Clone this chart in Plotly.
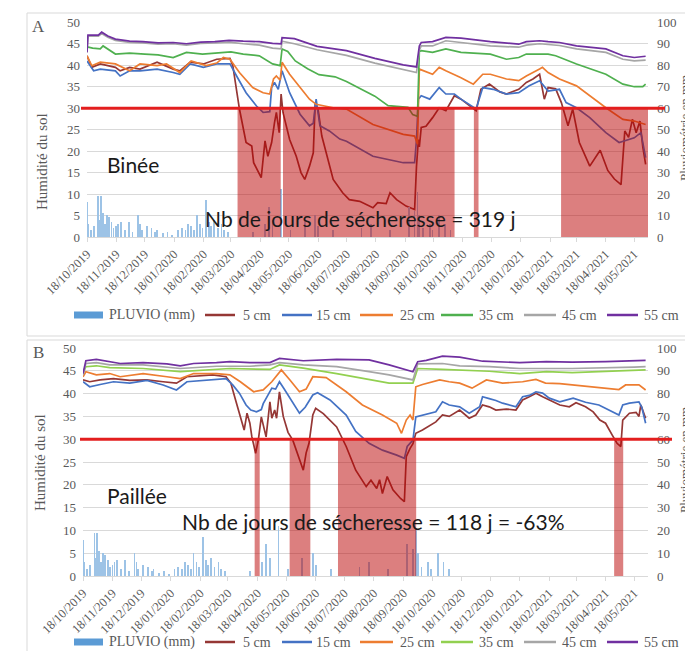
import plotly.graph_objects as go
import pandas as pd

START = "2019-10-18"
X_END_DAYS = 592.5

TICK_DATES = ["2019-10-18", "2019-11-18", "2019-12-18", "2020-01-18", "2020-02-18",
              "2020-03-18", "2020-04-18", "2020-05-18", "2020-06-18", "2020-07-18",
              "2020-08-18", "2020-09-18", "2020-10-18", "2020-11-18", "2020-12-18",
              "2021-01-18", "2021-02-18", "2021-03-18", "2021-04-18", "2021-05-18"]
TICK_LABELS = ["18/10/2019", "18/11/2019", "18/12/2019", "18/01/2020", "18/02/2020",
               "18/03/2020", "18/04/2020", "18/05/2020", "18/06/2020", "18/07/2020",
               "18/08/2020", "18/09/2020", "18/10/2020", "18/11/2020", "18/12/2020",
               "18/01/2021", "18/02/2021", "18/03/2021", "18/04/2021", "18/05/2021"]

SERIES_NAMES = ["5 cm", "15 cm", "25 cm", "35 cm", "45 cm", "55 cm"]

# ---------------- Rainfall (days since 18/10/2019, mm) ----------------
RAIN_DAY = [0, 1, 4, 7, 12, 13, 15, 17, 19, 21, 23, 26, 28, 31, 33, 36, 40, 44, 48, 54,
            56, 58, 63, 68, 72, 74, 80, 85, 90, 96, 100, 104, 107, 110, 113, 116, 119, 122, 126, 129,
            131, 134, 138, 142, 145, 149, 175, 188, 192, 196, 205, 215, 230, 241, 244, 260, 290, 300, 320, 340,
            346, 349, 351, 355, 362, 365, 372, 378, 384]
RAIN_MM = [16, 6, 3, 5, 19, 8, 19, 11, 6, 10, 9, 7, 4, 5, 6, 7, 3, 7, 2, 10,
           6, 3, 5, 4, 2, 3, 1.5, 2, 1, 3, 4, 3, 6, 5, 3, 10, 6, 4, 17, 7,
           5, 8, 4, 6, 3, 2, 2, 6, 14, 8, 22, 3, 8, 10, 5, 3, 4, 6, 3, 14,
           12, 21, 10, 4, 6, 3, 10, 6, 3]

# ---------------- Panel A : Binée ----------------
A5_DAY = [0, 5, 14, 30, 35, 45, 56, 74, 91, 98, 109, 123, 137, 151, 154, 158, 161, 168, 174, 176,
          181, 184, 186, 188, 191, 195, 198, 200, 203, 205, 207, 214, 221, 226, 230, 235, 239, 241, 244, 248,
          260, 270, 277, 288, 302, 307, 316, 320, 327, 337, 346, 347, 348, 350, 351, 353, 358, 365, 372, 379,
          388, 395, 408, 411, 416, 425, 436, 443, 456, 464, 471, 478, 483, 487, 495, 501, 508, 513, 520, 531,
          542, 550, 557, 564, 568, 572, 576, 580, 584, 587, 590]
A5_VAL = [42.2, 39.5, 40.3, 39.5, 38.7, 39.5, 39.1, 40.7, 39.1, 38.7, 40.7, 40.3, 41.4, 41.6, 39.9, 33.6, 29.8, 22.0, 21.2, 17.3,
          15.3, 13.8, 18.1, 22.4, 18.8, 22.0, 26.6, 29.0, 24.3, 33.3, 29.0, 22.7, 18.8, 15.0, 13.4, 16.5, 19.6, 31.3, 29.8, 23.5,
          13.4, 10.3, 8.7, 8.3, 6.8, 8.0, 7.8, 10.3, 8.7, 7.2, 6.4, 13.4, 16.5, 22.7, 21.0, 25.5, 25.8, 27.8, 30.1, 29.4,
          32.9, 32.1, 29.8, 29.4, 34.4, 35.6, 33.8, 33.3, 34.4, 36.0, 36.8, 37.9, 32.1, 34.8, 34.5, 31.3, 25.9, 29.8, 22.0, 16.5,
          20.2, 15.5, 13.5, 12.2, 24.7, 23.2, 27.4, 24.3, 27.0, 21.0, 16.9]

A15_DAY = [0, 7, 14, 30, 35, 45, 56, 74, 91, 98, 109, 123, 137, 151, 158, 168, 179, 186, 193, 195,
           198, 202, 206, 214, 225, 235, 239, 242, 246, 256, 267, 274, 302, 334, 346, 348, 350, 353, 362, 372,
           379, 388, 395, 408, 411, 418, 429, 443, 456, 467, 478, 487, 499, 506, 517, 531, 548, 562, 578, 585,
           588, 590]
A15_VAL = [41.0, 38.7, 39.1, 38.7, 37.5, 38.7, 38.7, 39.1, 38.3, 37.9, 40.3, 39.5, 40.3, 40.3, 37.5, 33.6, 30.5, 29.0, 29.2, 34.8,
           36.0, 34.4, 38.7, 33.6, 28.6, 25.9, 26.5, 32.1, 25.9, 24.7, 22.8, 22.3, 18.8, 17.3, 17.3, 22.7, 32.1, 32.9, 32.1, 34.8,
           33.3, 33.3, 32.1, 30.1, 29.8, 34.8, 34.4, 33.3, 33.6, 35.2, 36.4, 34.0, 34.4, 31.3, 30.1, 27.8, 24.3, 22.0, 23.1, 24.3,
           20.4, 18.5]

A25_DAY = [0, 5, 14, 30, 45, 56, 74, 84, 98, 110, 126, 137, 144, 151, 161, 175, 186, 193, 197, 200,
           204, 206, 214, 225, 235, 242, 260, 274, 302, 334, 346, 349, 351, 365, 372, 379, 395, 408, 418, 426,
           443, 456, 464, 478, 481, 487, 499, 517, 531, 548, 566, 578, 590]
A25_VAL = [42.2, 39.9, 40.7, 40.3, 38.7, 40.3, 39.9, 40.3, 38.3, 41.0, 39.9, 40.5, 41.8, 41.4, 38.3, 34.8, 33.6, 33.3, 36.8, 37.5,
           36.5, 40.7, 37.9, 34.8, 32.1, 30.9, 30.1, 29.8, 26.2, 23.9, 23.5, 21.6, 39.1, 37.9, 39.5, 38.7, 37.1, 35.6, 37.9, 37.9,
           36.8, 36.4, 37.5, 39.1, 39.5, 38.3, 36.8, 35.2, 32.9, 30.1, 27.4, 27.0, 26.2]

A35_DAY = [0, 6, 14, 17, 30, 45, 61, 75, 91, 105, 122, 137, 152, 165, 182, 196, 204, 206, 212, 220,
           233, 245, 262, 274, 290, 304, 318, 334, 339, 344, 349, 351, 353, 365, 379, 395, 426, 443, 456, 464,
           487, 495, 517, 548, 566, 578, 587, 590]
A35_VAL = [44.3, 44.0, 43.8, 44.5, 42.6, 42.8, 42.6, 42.4, 41.8, 43.0, 42.6, 42.8, 43.1, 42.6, 42.2, 40.3, 39.9, 43.8, 43.2, 41.0,
           39.2, 37.8, 37.3, 36.2, 34.3, 32.8, 30.6, 30.2, 30.2, 28.5, 28.1, 43.2, 43.4, 43.0, 43.8, 43.0, 42.6, 41.4, 41.8, 42.6,
           42.6, 42.2, 40.3, 37.9, 35.6, 35.0, 35.0, 35.6]

A45_DAY = [0, 1, 12, 15.5, 22, 30, 45, 59, 75, 91, 105, 120, 135, 150, 165, 182, 196, 205, 206, 219,
           243, 274, 304, 334, 348, 351, 353, 365, 379, 395, 426, 456, 464, 478, 487, 499, 517, 548, 566, 578,
           590]
A45_VAL = [43.0, 46.8, 46.8, 47.4, 46.5, 45.8, 45.3, 45.2, 44.9, 45.0, 44.7, 45.1, 45.2, 45.4, 45.0, 44.7, 44.0, 43.8, 45.6, 45.0,
           43.6, 42.3, 40.5, 38.9, 38.3, 43.5, 44.5, 44.5, 45.7, 45.3, 44.5, 44.2, 44.7, 45.0, 44.9, 44.6, 43.8, 43.0, 41.4, 41.0,
           41.2]

A55_DAY = [0, 1, 12, 15.5, 22, 30, 45, 59, 75, 91, 105, 120, 135, 150, 165, 182, 196, 205, 206, 219,
           243, 268, 274, 304, 334, 348, 351, 353, 365, 379, 395, 426, 456, 464, 478, 487, 499, 517, 548, 566,
           578, 590]
A55_VAL = [43.0, 47.0, 47.0, 47.7, 46.8, 46.1, 45.6, 45.5, 45.2, 45.3, 45.0, 45.4, 45.5, 45.8, 45.6, 45.5, 45.1, 45.0, 46.4, 46.2,
           44.4, 43.6, 43.4, 41.6, 40.1, 39.6, 44.5, 45.3, 45.5, 46.5, 46.3, 45.5, 44.9, 45.5, 45.7, 45.5, 45.3, 44.5, 43.8, 42.2,
           41.8, 42.1]

# drought periods (soil moisture < 30), start / end in days
A_DRY_START = [159, 207, 408.6, 500.7]
A_DRY_END = [204.6, 388.2, 413.5, 593]

# ---------------- Panel B : Paillée ----------------
B5_DAY = [0, 7, 18, 32, 49, 67, 84, 98, 109, 136, 150, 155, 160, 166, 169, 172, 175, 177, 181, 184,
          187, 192, 196, 198, 201, 203, 206, 210, 215, 220, 227, 231, 234, 237, 241, 244, 252, 266, 276, 286,
          297, 302, 308, 311, 314, 319, 325, 333, 337, 339, 343, 346, 349, 356, 370, 377, 384, 395, 405, 412,
          419, 426, 433, 444, 454, 461, 468, 475, 482, 489, 500, 510, 517, 527, 535, 542, 548, 555, 560, 564,
          566, 573, 580, 583, 585, 590]
B5_VAL = [43.0, 42.6, 43.0, 43.3, 42.9, 43.0, 42.6, 42.3, 43.7, 44.1, 43.7, 42.3, 38.6, 34.2, 32.0, 35.7, 33.5, 30.6, 26.9, 30.0,
          34.9, 30.5, 38.2, 34.6, 36.4, 34.6, 40.4, 35.0, 31.5, 29.8, 25.4, 23.2, 27.0, 29.1, 35.3, 36.8, 35.6, 32.7, 28.4, 23.2,
          19.6, 21.0, 19.2, 21.1, 18.1, 21.8, 18.9, 17.0, 16.3, 26.2, 28.0, 29.0, 31.3, 32.0, 33.8, 35.3, 35.0, 36.4, 34.6, 35.3,
          37.5, 37.1, 36.4, 36.6, 36.4, 38.6, 39.3, 40.1, 39.3, 38.6, 37.5, 37.1, 38.0, 37.1, 36.0, 34.2, 33.5, 30.9, 29.1, 28.4,
          34.2, 35.7, 35.9, 35.0, 37.5, 34.6]

B15_DAY = [0, 7, 18, 32, 49, 67, 84, 98, 109, 136, 150, 157, 164, 171, 176, 182, 187, 189, 194, 198,
           202, 206, 211, 216, 227, 233, 241, 246, 259, 276, 286, 300, 314, 329, 337, 340, 346, 349, 356, 370,
           377, 384, 395, 405, 416, 419, 426, 433, 440, 454, 461, 468, 475, 482, 489, 500, 514, 527, 541, 555,
           562, 566, 573, 583, 586, 590]
B15_VAL = [42.6, 41.5, 42.0, 42.6, 42.3, 42.9, 41.9, 40.8, 42.6, 43.0, 43.3, 41.9, 40.1, 37.5, 36.4, 36.0, 36.5, 37.8, 39.7, 41.2,
           41.0, 42.6, 41.0, 39.3, 35.7, 37.0, 39.7, 40.2, 38.6, 35.3, 31.7, 29.1, 27.6, 26.5, 25.8, 28.4, 29.8, 34.9, 35.3, 36.0,
           38.2, 37.5, 37.1, 35.7, 37.1, 39.3, 38.9, 38.5, 37.9, 37.1, 39.3, 39.6, 40.4, 40.1, 39.0, 38.2, 39.0, 38.1, 37.5, 36.0,
           35.3, 37.5, 37.9, 38.2, 37.0, 33.5]

B25_DAY = [0, 3, 14, 28, 39, 63, 88, 102, 116, 140, 154, 165, 179, 189, 198, 206, 208, 217, 227, 234,
           241, 255, 276, 293, 314, 329, 334, 339, 343, 346, 349, 356, 374, 384, 395, 408, 423, 440, 461, 475,
           485, 500, 535, 562, 569, 583, 590]
B25_VAL = [43.7, 44.8, 44.1, 44.4, 43.7, 44.4, 43.7, 43.3, 44.4, 44.4, 44.1, 42.6, 40.4, 40.8, 42.6, 44.8, 45.2, 43.0, 40.4, 41.0,
           43.7, 43.5, 40.4, 37.5, 35.3, 33.5, 31.3, 34.2, 35.3, 34.2, 41.5, 42.0, 43.0, 42.6, 42.3, 41.2, 43.0, 42.3, 42.6, 43.1,
           42.3, 42.2, 41.5, 40.9, 41.9, 41.9, 40.8]

B35_DAY = [0, 3, 14, 28, 63, 102, 154, 192, 196, 206, 231, 266, 300, 321, 346, 351, 377, 395, 426, 458,
           486, 513, 548, 590]
B35_VAL = [44.5, 45.9, 46.1, 45.7, 45.5, 44.8, 45.5, 45.4, 45.3, 46.3, 45.6, 44.4, 43.0, 42.3, 42.3, 45.5, 45.3, 45.2, 44.9, 44.4,
           44.8, 44.6, 44.8, 45.2]

B45_DAY = [0, 3, 14, 28, 63, 102, 140, 175, 196, 206, 231, 266, 300, 321, 346, 351, 377, 395, 426, 458,
           513, 548, 578, 590]
B45_VAL = [44.0, 46.6, 46.8, 46.3, 46.3, 45.5, 46.0, 46.0, 46.3, 46.8, 46.3, 45.9, 44.8, 44.1, 43.0, 46.5, 46.6, 46.1, 45.9, 45.5,
           45.5, 45.6, 45.8, 45.9]

B55_DAY = [0, 3, 14, 28, 39, 63, 88, 102, 116, 140, 154, 175, 196, 206, 231, 266, 300, 321, 335, 346,
           351, 360, 377, 395, 419, 458, 486, 513, 548, 578, 590]
B55_VAL = [44.4, 47.2, 47.5, 47.0, 46.6, 46.8, 46.5, 46.1, 46.6, 46.8, 47.0, 46.8, 46.8, 47.7, 47.2, 47.5, 47.4, 46.3, 45.5, 44.8,
           47.0, 47.3, 48.2, 48.0, 47.1, 46.8, 47.0, 46.9, 47.0, 47.3, 47.3]

B_DRY_START = [180, 216.7, 267.4, 557]
B_DRY_END = [185.3, 238.4, 349.4, 566.5]

DROUGHT_THRESHOLD = 30
A_LABEL = "Binée"
B_LABEL = "Paillée"
A_TEXT = "Nb de jours de sécheresse = 319 j"
B_TEXT = "Nb de jours de sécheresse = 118 j = -63%"

# ---------------- helpers ----------------
T0 = pd.Timestamp(START)


def to_dates(days):
    return [T0 + pd.Timedelta(days=float(d)) for d in days]


# the page body has an 8px margin: the figure is sized to fill the rest of the window
OFF = 8
W, H = 693 - OFF, 651 - OFF


def px(x):
    return (x - OFF) / W


def py(y):
    return 1 - (y - OFF) / H


COL5 = "#953735"
COL15 = "#4472C4"
COL25 = "#ED7D31"
COL35A = "#4FB04F"
COL35B = "#92D050"
COL45 = "#A6A6A6"
COL55 = "#7030A0"
RAIN_COL = "#9DC3E6"
GRID = "#D9D9D9"
TXT = "#595959"
SERIF = "Liberation Serif"
SANS = "Lato"

fig = go.Figure()

panels = [
    dict(xa="x", ya="y", ya2="y2",
         series=[(A5_DAY, A5_VAL, COL5), (A15_DAY, A15_VAL, COL15), (A25_DAY, A25_VAL, COL25),
                 (A35_DAY, A35_VAL, COL35A), (A45_DAY, A45_VAL, COL45), (A55_DAY, A55_VAL, COL55)],
         dry=(A_DRY_START, A_DRY_END)),
    dict(xa="x2", ya="y3", ya2="y4",
         series=[(B5_DAY, B5_VAL, COL5), (B15_DAY, B15_VAL, COL15), (B25_DAY, B25_VAL, COL25),
                 (B35_DAY, B35_VAL, COL35B), (B45_DAY, B45_VAL, COL45), (B55_DAY, B55_VAL, COL55)],
         dry=(B_DRY_START, B_DRY_END)),
]

for p in panels:
    fig.add_trace(go.Bar(x=to_dates(RAIN_DAY), y=RAIN_MM, xaxis=p["xa"], yaxis=p["ya2"],
                         marker=dict(color=RAIN_COL, line=dict(width=0)),
                         width=86400000 * 0.8, name="PLUVIO (mm)", showlegend=False))
    for (days, vals, col), name in zip(p["series"], SERIES_NAMES):
        fig.add_trace(go.Scatter(x=to_dates(days), y=vals, xaxis=p["xa"], yaxis=p["ya"],
                                 mode="lines", line=dict(color=col, width=1.7),
                                 name=name, showlegend=False))

shapes = []
# frames
shapes.append(dict(type="rect", xref="paper", yref="paper", x0=px(27), x1=px(710), y0=py(336), y1=py(13),
                   line=dict(color=GRID, width=1), fillcolor="rgba(0,0,0,0)", layer="below"))
shapes.append(dict(type="rect", xref="paper", yref="paper", x0=px(27), x1=px(710), y0=py(670), y1=py(340),
                   line=dict(color=GRID, width=1), fillcolor="rgba(0,0,0,0)", layer="below"))

for p in panels:
    for s, e in zip(*p["dry"]):
        shapes.append(dict(type="rect", xref=p["xa"], yref=p["ya"],
                           x0=T0 + pd.Timedelta(days=s), x1=T0 + pd.Timedelta(days=e),
                           y0=0, y1=DROUGHT_THRESHOLD, fillcolor="rgba(185,0,0,0.5)",
                           line=dict(width=0), layer="above"))

shapes.append(dict(type="line", xref="paper", yref="y", x0=px(81), x1=px(665),
                   y0=DROUGHT_THRESHOLD, y1=DROUGHT_THRESHOLD, line=dict(color="#E31E1E", width=3)))
shapes.append(dict(type="line", xref="paper", yref="y3", x0=px(80), x1=px(672),
                   y0=DROUGHT_THRESHOLD, y1=DROUGHT_THRESHOLD, line=dict(color="#E31E1E", width=3)))

annotations = []
# manual legends
leg_items = [("5 cm", COL5, 205, 235, 241), ("15 cm", COL15, 282, 312, 314),
             ("25 cm", COL25, 360, 393, 398), ("35 cm", None, 441, 473, 477),
             ("45 cm", COL45, 524, 556, 560), ("55 cm", COL55, 607, 638, 642)]
for ly, c35 in [(315, COL35A), (642, COL35B)]:
    shapes.append(dict(type="rect", xref="paper", yref="paper", x0=px(74), x1=px(103),
                       y0=py(ly + 3.5), y1=py(ly - 3.5), fillcolor="#5B9BD5", line=dict(width=0)))
    annotations.append(dict(text="PLUVIO (mm)", x=px(107), y=py(ly), xref="paper", yref="paper",
                            xanchor="left", yanchor="middle", showarrow=False,
                            font=dict(family=SERIF, size=14, color=TXT)))
    for name, col, x0, x1, tx in leg_items:
        col = col or c35
        shapes.append(dict(type="line", xref="paper", yref="paper", x0=px(x0), x1=px(x1),
                           y0=py(ly), y1=py(ly), line=dict(color=col, width=2.5)))
        annotations.append(dict(text=name, x=px(tx), y=py(ly), xref="paper", yref="paper",
                                xanchor="left", yanchor="middle", showarrow=False,
                                font=dict(family=SERIF, size=14, color=TXT)))


def ann(text, x, y, size, family, color, xanchor="left", angle=0):
    annotations.append(dict(text=text, x=px(x), y=py(y), xref="paper", yref="paper",
                            xanchor=xanchor, yanchor="middle", showarrow=False, textangle=angle,
                            font=dict(family=family, size=size, color=color)))


ann("A", 30, 27, 17, SERIF, TXT)
ann("B", 31, 352, 17, SERIF, TXT)
ann("Humidité du sol", 42, 162, 15, SERIF, TXT, "center", -90)
ann("Humidité du sol", 40, 462, 15, SERIF, TXT, "center", -90)
ann("Pluviométrie en mm", 685, 128, 13, SERIF, TXT, "center", -90)
ann("Pluviométrie en mm", 685, 460, 13, SERIF, TXT, "center", -90)
ann(A_LABEL, 105, 164, 21, SANS, "#1A1A1A")
ann(A_TEXT, 203, 218, 21, SANS, "#1A1A1A")
ann(B_LABEL, 105, 495, 21, SANS, "#1A1A1A")
ann(B_TEXT, 180, 521, 21, SANS, "#1A1A1A")

xrange = [T0, T0 + pd.Timedelta(days=X_END_DAYS)]
tickfont = dict(family=SERIF, size=13, color=TXT)
xtickfont = dict(family=SERIF, size=12.5, color=TXT)

xcommon = dict(range=xrange, tickmode="array", tickvals=TICK_DATES, ticktext=TICK_LABELS,
               tickangle=-45, tickfont=xtickfont, showgrid=False, showline=True, linecolor=GRID,
               ticks="outside", ticklen=4, tickcolor=GRID, zeroline=False, automargin=False)
ycommon = dict(range=[0, 50], dtick=5, tick0=0, tickfont=tickfont, showgrid=True, gridcolor=GRID,
               gridwidth=1, zeroline=False, showline=False, ticks="", ticklabelstandoff=6,
               automargin=False)
y2common = dict(range=[0, 100], dtick=10, tick0=0, tickfont=tickfont, showgrid=False, zeroline=False,
                showline=False, ticks="", side="right", ticklabelstandoff=8, automargin=False)

fig.update_layout(
    width=W, height=H, margin=dict(l=0, r=0, t=0, b=0, autoexpand=False),
    paper_bgcolor="white", plot_bgcolor="white", showlegend=False, bargap=0,
    xaxis=dict(domain=[px(87), px(648)], anchor="y", **xcommon),
    yaxis=dict(domain=[py(237), py(22.3)], anchor="x", **ycommon),
    yaxis2=dict(overlaying="y", anchor="x", **y2common),
    xaxis2=dict(domain=[px(83), px(648)], anchor="y3", **xcommon),
    yaxis3=dict(domain=[py(576), py(348)], anchor="x2", **ycommon),
    yaxis4=dict(overlaying="y3", anchor="x2", **y2common),
    shapes=shapes, annotations=annotations,
)

fig.write_html("out.html")
